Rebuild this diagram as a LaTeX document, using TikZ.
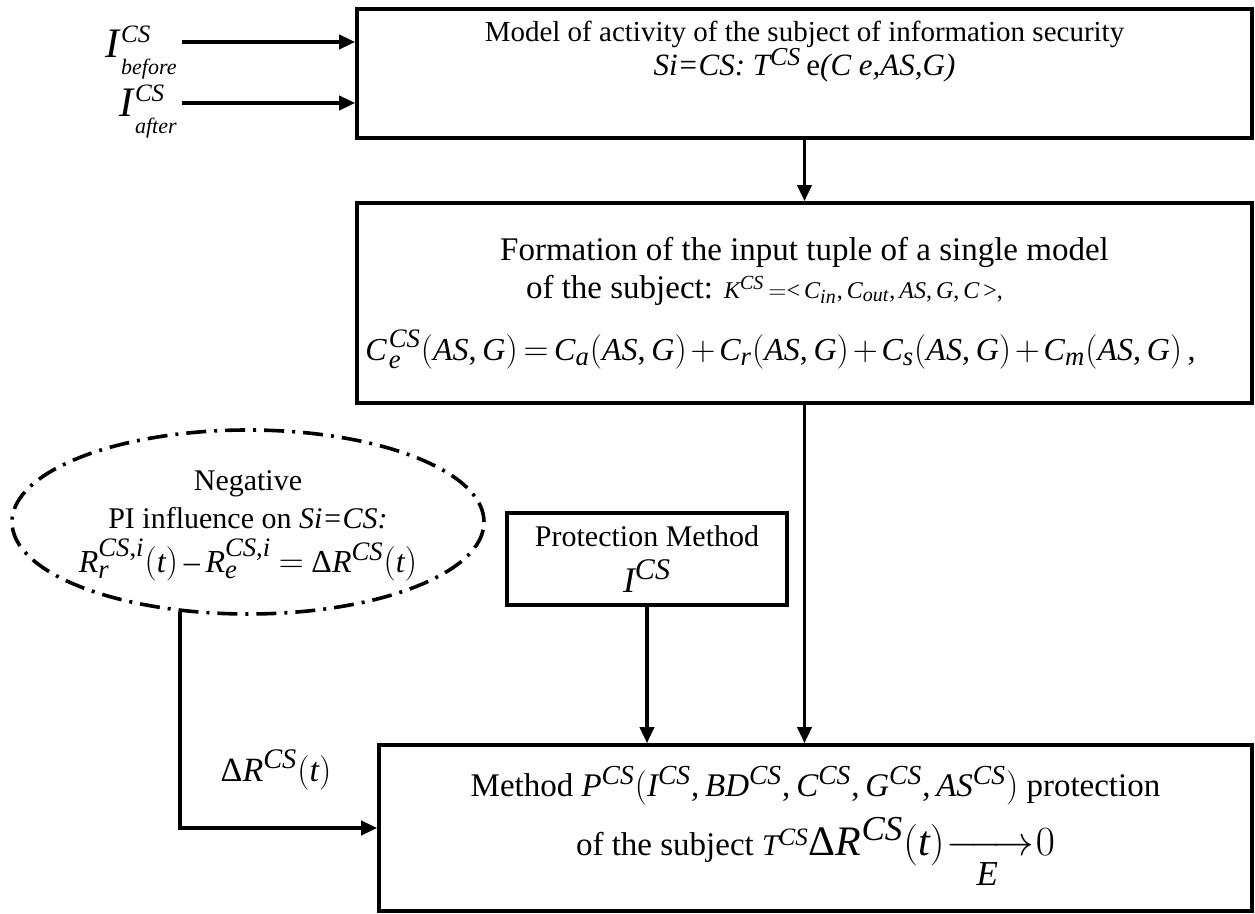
\documentclass[tikz,border=0pt]{standalone}
\usepackage{amsmath}
\usepackage{fontspec}
\setmainfont{Liberation Serif}
\usepackage[italic]{mathastext}
\usetikzlibrary{shapes.geometric,arrows.meta}

\tikzset{
  block/.style={draw, line width=1.8pt, inner sep=0pt, align=center},
  flow/.style={line width=1.8pt, -{Triangle[length=8pt,width=7pt]}},
  txt/.style={align=center, font=\fontsize{14.5}{16}\selectfont},
  inlabel/.style={anchor=base east, inner sep=0pt, font=\fontsize{21}{21}\selectfont},
  dashring/.style={ellipse, draw, line width=1.8pt, dash pattern=on 10pt off 4pt on 1.5pt off 4pt, inner sep=0pt},
}
\newcommand{\supcs}{\text{\fontsize{12.5}{12}\selectfont\itshape CS}}
\newcommand{\subin}[1]{\raisebox{-3pt}{\fontsize{11}{11}\selectfont\itshape #1}}
\newcommand{\dlt}{\text{\upshape Δ}}

\begin{document}
\begin{tikzpicture}[x=0.5pt,y=-0.5pt]
\useasboundingbox (0,0) rectangle (1255,914);

% inputs and the model of activity
\node[block, minimum width=447.5pt, minimum height=64.5pt] (model) at (804.5,73.5) {};
\node[txt] (modeltxt) at (804.5,52) {Model of activity of the subject of information security\\[-1pt]
  {\fontsize{15.5}{16}\selectfont\textit{Si=CS:} $T^{CS}$\,e\textit{(C e,AS,G)}}};
\node[inlabel] (ibefore) at (178,58) {$I\kern1pt^{\supcs}_{\text{\subin{before}}}$};
\node[inlabel] (iafter) at (178,117) {$I\kern1pt^{\supcs}_{\text{\subin{after}}}$};
\draw[flow] ([xshift=2pt,yshift=8pt]ibefore.base east) -- ([yshift=8pt]ibefore.base east -| model.west);
\draw[flow] ([xshift=2pt,yshift=7pt]iafter.base east) -- ([yshift=7pt]iafter.base east -| model.west);

% input tuple
\node[block, minimum width=447.5pt, minimum height=100pt, font=\fontsize{16.5}{19}\selectfont] (tuple) at (804.5,303) {%
  Formation of the input tuple of a single model\\
  \makebox[0pt]{of the subject: {\fontsize{12}{13}\selectfont $K^{CS}\,{=}{<}\,C_{in},C_{out},AS,G,C\,{>}$,}\kern40pt}\\[12pt]
  \makebox[0pt]{\fontsize{16}{18}\selectfont\medmuskip=2mu\thickmuskip=3mu $C\kern1pt_e^{CS}(AS,G)=C_a(AS,G)+C_r(AS,G)+C_s(AS,G)+C_m(AS,G)$\,,\kern24pt}};
\draw[flow] (model) -- (tuple);

% negative influence and protection method
\node[dashring, minimum width=236pt, minimum height=92pt] (neg) at (248,522) {};
\node[txt, font=\fontsize{15}{19}\selectfont] (negtxt) at (248,526)
  {Negative\\ PI influence on \textit{Si=CS:}\\[3pt]
  {\fontsize{16}{19}\selectfont\medmuskip=3mu\thickmuskip=4mu$R_r^{CS,i}(t)-R_e^{CS,i}=\dlt R^{CS}(t)$}};
\node[block, minimum width=140pt, minimum height=46pt, font=\fontsize{15}{19}\selectfont] (protect) at (647,559)
  {Protection Method\\[4pt] {\fontsize{18}{19}\selectfont$I^{CS}$}};

% protection of the subject
\node[block, minimum width=436.5pt, minimum height=83pt, font=\fontsize{16.5}{20}\selectfont] (method) at (815.5,828)
  {Method $P^{CS}(I^{CS},BD^{CS},C^{CS},G^{CS},AS^{CS})$ protection\\[5pt]
  of the subject {\fontsize{15}{16}\selectfont$T^{CS}$}{\fontsize{21}{24}\selectfont\thickmuskip=1mu$\dlt R^{CS}(t)\xrightarrow[E]{\hspace{30pt}}0$}};
\draw[flow] (protect) -- (protect |- method.north);
\draw[flow] (tuple.south) -- (tuple.south |- method.north);
\draw[flow] (neg.233) |- (method.west);
\node[font=\fontsize{17}{19}\selectfont] (dr) at (276,770) {$\dlt R^{CS}(t)$};
\end{tikzpicture}
\end{document}
